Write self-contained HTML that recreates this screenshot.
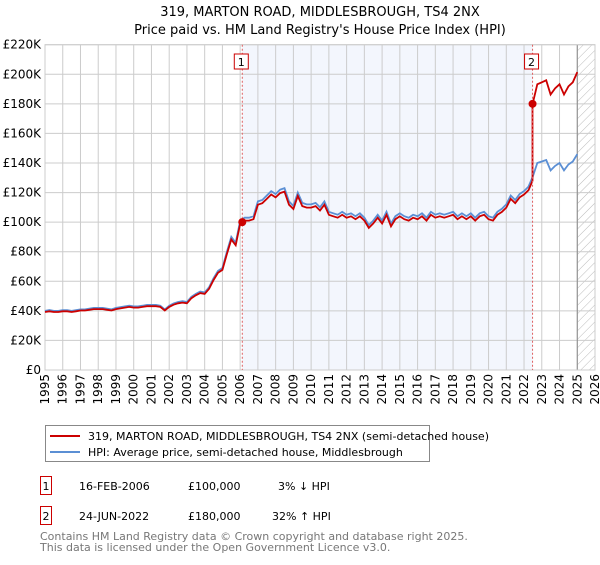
<!DOCTYPE html>
<html><head><meta charset="utf-8"><style>
body{margin:0;background:#fff;width:600px;height:560px;overflow:hidden;font-family:"Liberation Sans","DejaVu Sans",sans-serif}
svg text{font-family:"DejaVu Sans","Liberation Sans",sans-serif}
</style></head><body>
<svg id="chart" width="600" height="560" viewBox="0 0 600 560" xmlns="http://www.w3.org/2000/svg">
<defs><pattern id="hatch" width="6" height="6" patternUnits="userSpaceOnUse" patternTransform="rotate(45)"><line x1="0" y1="0" x2="0" y2="6" stroke="#bbb" stroke-width="1"/></pattern></defs>
<text x="320" y="16" text-anchor="middle" font-size="13">319, MARTON ROAD, MIDDLESBROUGH, TS4 2NX</text>
<text x="320" y="34" text-anchor="middle" font-size="13">Price paid vs. HM Land Registry's House Price Index (HPI)</text>
<g id="plot"></g>
<g>
<rect x="45.5" y="425.5" width="384" height="36" fill="#fff" stroke="#888"/>
<line x1="50" y1="436" x2="80" y2="436" stroke="#cc0000" stroke-width="2"/>
<text x="88" y="440" font-size="11">319, MARTON ROAD, MIDDLESBROUGH, TS4 2NX (semi-detached house)</text>
<line x1="50" y1="452" x2="80" y2="452" stroke="#5b8fd4" stroke-width="2"/>
<text x="88" y="456" font-size="11">HPI: Average price, semi-detached house, Middlesbrough</text>
</g>
<g font-size="11">
<rect x="40.5" y="476.5" width="11" height="18" fill="#fff" stroke="#cc0000"/>
<text x="46" y="490" text-anchor="middle">1</text>
<text x="79" y="490">16-FEB-2006</text><text x="188" y="490">£100,000</text><text x="278" y="490">3% ↓ HPI</text>
</g>
<g font-size="11">
<rect x="40.5" y="506.5" width="11" height="18" fill="#fff" stroke="#cc0000"/>
<text x="46" y="520" text-anchor="middle">2</text>
<text x="79" y="520">24-JUN-2022</text><text x="188" y="520">£180,000</text><text x="272" y="520">32% ↑ HPI</text>
</g>
<text x="40" y="540" font-size="11" fill="#777">Contains HM Land Registry data © Crown copyright and database right 2025.</text>
<text x="40" y="551" font-size="11" fill="#777">This data is licensed under the Open Government Licence v3.0.</text>
</svg>
<script>
const yTicks=[0,20,40,60,80,100,120,140,160,180,200,220];
const years=[1995,1996,1997,1998,1999,2000,2001,2002,2003,2004,2005,2006,2007,2008,2009,2010,2011,2012,2013,2014,2015,2016,2017,2018,2019,2020,2021,2022,2023,2024,2025,2026];
// HPI quarterly (thousands) from 1995.0
const hpi=[40,40.5,40,40, 40.5,40.5,40,40.5, 41,41,41.5,42, 42,42,41.5,41, 42,42.5,43,43.5, 43,43,43.5,44, 44,44,43.5,41,
43.5,45,46,46.5, 46,49.5,51.5,53, 52.5,56,62,67, 69,80,90,86, 101,103,103,104, 114,115,118,121, 119,122,123,114,
111,120,113,112, 112,113,110,114, 107,106,105,107, 105,106,104,106, 103,98,101,105, 101,107,99,104,
106,104,103,105, 104,106,103,107, 105,106,105,106, 107,104,106,104, 106,103,106,107, 104,103,107,109,
112,118,115,119, 121,124,131,140, 141,142,135,138, 140,135,139,141, 146];
const sales=[{t:2006.12,price:100},{t:2022.48,price:180}];
const X0=45,X1=595,Y0=370,Y1=44.7;
const x=t=>X0+(t-1995)/(2026-1995)*(X1-X0);
const y=v=>Y0-v/220*(Y0-Y1);
const NS='http://www.w3.org/2000/svg';
const g=document.getElementById('plot');
function mk(tag,attrs,parent){const e=document.createElementNS(NS,tag);for(const k in attrs)e.setAttribute(k,attrs[k]);(parent||g).appendChild(e);return e;}
const tOf=i=>1995+i*0.25;
function hpiAt(t){const f=(t-1995)*4;const i=Math.floor(f);const a=hpi[Math.min(i,hpi.length-1)],b=hpi[Math.min(i+1,hpi.length-1)];return a+(b-a)*(f-i);}
const sh=mk('rect',{x:x(sales[0].t),y:Y1,width:x(sales[1].t)-x(sales[0].t),height:Y0-Y1,fill:'#eef2fc',opacity:0.7});


const ht=mk('rect',{x:x(2025),y:Y1,width:X1-x(2025),height:Y0-Y1,fill:'url(#hatch)'});


yTicks.forEach(v=>{const l=mk('line',{x1:X0,x2:X1,y1:y(v),y2:y(v),stroke:'#ccc'});


const tx=mk('text',{x:X0-4,y:y(v)+4,'text-anchor':'end','font-size':'12'});tx.textContent=v===0?'£0':'£'+v+'K';

});
years.forEach(yr=>{const l=mk('line',{x1:x(yr),x2:x(yr),y1:Y1,y2:Y0,stroke:'#ccc'});


const tx=mk('text',{transform:`translate(${x(yr)+4},${Y0+4}) rotate(-90)`,'text-anchor':'end','font-size':'12'});tx.textContent=yr;

});
mk('line',{x1:x(2025),x2:x(2025),y1:Y1,y2:Y0,stroke:'#888'});
const fr=mk('rect',{x:X0,y:Y1,width:X1-X0,height:Y0-Y1,fill:'none',stroke:'#ccc'});


const hp=hpi.map((v,i)=>x(tOf(i)).toFixed(1)+','+y(v).toFixed(1)).join(' ');
const hl=mk('polyline',{points:hp,fill:'none',stroke:'#5b8fd4','stroke-width':1.8});


const s1=sales[0].price/hpiAt(sales[0].t),s2=sales[1].price/hpiAt(sales[1].t);
const rp=[];
hpi.forEach((v,i)=>{const t=tOf(i);
 if(t<sales[1].t){rp.push([t,v*s1]);}
 else{ if(rp.length&&rp[rp.length-1][0]<sales[1].t){rp.push([sales[1].t,hpiAt(sales[1].t)*s1]);rp.push([sales[1].t,sales[1].price]);} rp.push([t,v*s2]);}});
const rl=mk('polyline',{points:rp.map(p=>x(p[0]).toFixed(1)+','+y(p[1]).toFixed(1)).join(' '),fill:'none',stroke:'#cc0000','stroke-width':1.8});


sales.forEach((s,i)=>{
 const vl=mk('line',{x1:x(s.t),x2:x(s.t),y1:Y1,y2:Y0,stroke:'#e06060','stroke-dasharray':'2,2'});
 
 
 const d=mk('circle',{cx:x(s.t),cy:y(s.price),r:4,fill:'#cc0000'});
 
 
 const b=mk('rect',{x:x(s.t)-8,y:54,width:14,height:15,fill:'#fff',stroke:'#cc0000'});
 
 
 const tx=mk('text',{x:x(s.t)-1,y:66,'text-anchor':'middle','font-size':'11'});tx.textContent=String(i+1);
 
 
});
</script>
</body></html>
